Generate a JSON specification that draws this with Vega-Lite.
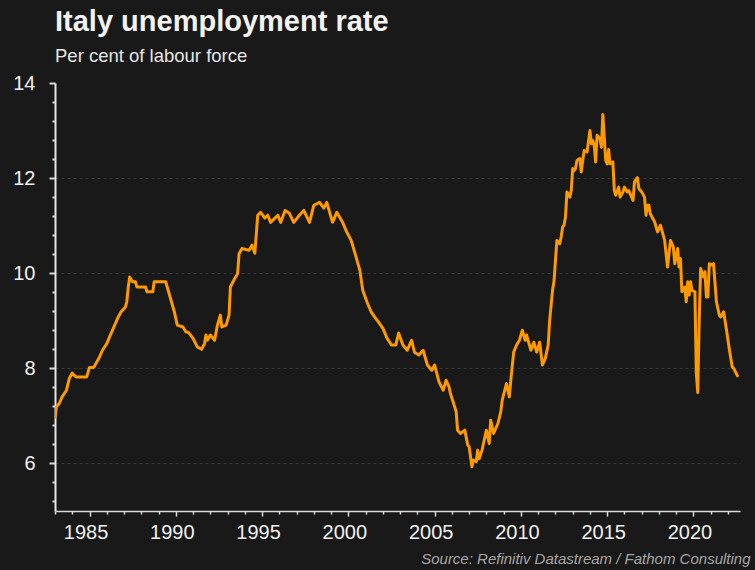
{
  "$schema": "https://vega.github.io/schema/vega-lite/v6.json",
  "width": 685,
  "height": 428,
  "autosize": {"type": "none"},
  "padding": {"left": 55, "top": 83, "right": 15, "bottom": 59},
  "background": "#191919",
  "title": {
    "text": "Italy unemployment rate",
    "subtitle": "Per cent of labour force",
    "anchor": "start",
    "frame": "group",
    "font": "Liberation Sans",
    "fontSize": 29,
    "fontWeight": "bold",
    "color": "#f2f2f2",
    "subtitleFont": "Liberation Sans",
    "subtitleFontSize": 18.5,
    "subtitleColor": "#e6e6e6",
    "subtitlePadding": 10,
    "offset": 8
  },
  "config": {
    "view": {"stroke": null},
    "axis": {"labelFont": "Liberation Sans", "labelFontSize": 20, "labelColor": "#f0f0f0"}
  },
  "data": {
    "values": [
      {"date": "1983-01-01", "rate": 6.95},
      {"date": "1983-02-01", "rate": 7.19},
      {"date": "1983-04-01", "rate": 7.26},
      {"date": "1983-06-01", "rate": 7.40},
      {"date": "1983-09-01", "rate": 7.54},
      {"date": "1983-11-01", "rate": 7.79},
      {"date": "1984-01-01", "rate": 7.90},
      {"date": "1984-02-01", "rate": 7.86},
      {"date": "1984-04-01", "rate": 7.82},
      {"date": "1984-11-01", "rate": 7.82},
      {"date": "1985-01-01", "rate": 8.02},
      {"date": "1985-04-01", "rate": 8.02},
      {"date": "1985-08-01", "rate": 8.24},
      {"date": "1985-10-01", "rate": 8.38},
      {"date": "1986-01-01", "rate": 8.52},
      {"date": "1986-03-01", "rate": 8.66},
      {"date": "1986-05-01", "rate": 8.80},
      {"date": "1986-09-01", "rate": 9.08},
      {"date": "1986-11-01", "rate": 9.19},
      {"date": "1987-02-01", "rate": 9.29},
      {"date": "1987-03-01", "rate": 9.40},
      {"date": "1987-04-01", "rate": 9.71},
      {"date": "1987-05-01", "rate": 9.92},
      {"date": "1987-07-01", "rate": 9.82},
      {"date": "1987-09-01", "rate": 9.82},
      {"date": "1987-10-01", "rate": 9.71},
      {"date": "1988-04-01", "rate": 9.71},
      {"date": "1988-05-01", "rate": 9.61},
      {"date": "1988-09-01", "rate": 9.61},
      {"date": "1988-10-01", "rate": 9.82},
      {"date": "1989-06-01", "rate": 9.82},
      {"date": "1989-08-01", "rate": 9.61},
      {"date": "1989-10-01", "rate": 9.40},
      {"date": "1989-12-01", "rate": 9.19},
      {"date": "1990-02-01", "rate": 8.91},
      {"date": "1990-06-01", "rate": 8.87},
      {"date": "1990-08-01", "rate": 8.77},
      {"date": "1990-10-01", "rate": 8.75},
      {"date": "1991-01-01", "rate": 8.63},
      {"date": "1991-04-01", "rate": 8.45},
      {"date": "1991-07-01", "rate": 8.40},
      {"date": "1991-09-01", "rate": 8.52},
      {"date": "1991-10-01", "rate": 8.70},
      {"date": "1991-11-01", "rate": 8.59},
      {"date": "1992-01-01", "rate": 8.70},
      {"date": "1992-04-01", "rate": 8.59},
      {"date": "1992-06-01", "rate": 8.91},
      {"date": "1992-08-01", "rate": 9.12},
      {"date": "1992-09-01", "rate": 8.87},
      {"date": "1992-12-01", "rate": 8.91},
      {"date": "1993-02-01", "rate": 9.12},
      {"date": "1993-03-01", "rate": 9.71},
      {"date": "1993-06-01", "rate": 9.89},
      {"date": "1993-08-01", "rate": 9.99},
      {"date": "1993-09-01", "rate": 10.41},
      {"date": "1993-11-01", "rate": 10.52},
      {"date": "1994-04-01", "rate": 10.48},
      {"date": "1994-06-01", "rate": 10.59},
      {"date": "1994-08-01", "rate": 10.42},
      {"date": "1994-10-01", "rate": 11.22},
      {"date": "1994-12-01", "rate": 11.28},
      {"date": "1995-03-01", "rate": 11.16},
      {"date": "1995-05-01", "rate": 11.22},
      {"date": "1995-07-01", "rate": 11.07},
      {"date": "1995-12-01", "rate": 11.22},
      {"date": "1996-02-01", "rate": 11.07},
      {"date": "1996-05-01", "rate": 11.32},
      {"date": "1996-08-01", "rate": 11.26},
      {"date": "1996-11-01", "rate": 11.07},
      {"date": "1997-03-01", "rate": 11.22},
      {"date": "1997-06-01", "rate": 11.32},
      {"date": "1997-10-01", "rate": 11.07},
      {"date": "1998-01-01", "rate": 11.43},
      {"date": "1998-05-01", "rate": 11.49},
      {"date": "1998-08-01", "rate": 11.37},
      {"date": "1998-10-01", "rate": 11.49},
      {"date": "1999-02-01", "rate": 11.07},
      {"date": "1999-05-01", "rate": 11.28},
      {"date": "1999-09-01", "rate": 11.07},
      {"date": "1999-12-01", "rate": 10.86},
      {"date": "2000-03-01", "rate": 10.69},
      {"date": "2000-06-01", "rate": 10.38},
      {"date": "2000-09-01", "rate": 10.06},
      {"date": "2000-11-01", "rate": 9.64},
      {"date": "2001-02-01", "rate": 9.39},
      {"date": "2001-05-01", "rate": 9.18},
      {"date": "2001-08-01", "rate": 9.05},
      {"date": "2001-10-01", "rate": 8.97},
      {"date": "2002-01-01", "rate": 8.84},
      {"date": "2002-04-01", "rate": 8.63},
      {"date": "2002-07-01", "rate": 8.49},
      {"date": "2002-10-01", "rate": 8.49},
      {"date": "2002-12-01", "rate": 8.74},
      {"date": "2003-03-01", "rate": 8.49},
      {"date": "2003-06-01", "rate": 8.38},
      {"date": "2003-09-01", "rate": 8.59},
      {"date": "2003-11-01", "rate": 8.34},
      {"date": "2004-02-01", "rate": 8.28},
      {"date": "2004-05-01", "rate": 8.38},
      {"date": "2004-08-01", "rate": 8.07},
      {"date": "2004-11-01", "rate": 7.96},
      {"date": "2005-01-01", "rate": 8.07},
      {"date": "2005-04-01", "rate": 7.72},
      {"date": "2005-07-01", "rate": 7.54},
      {"date": "2005-09-01", "rate": 7.75},
      {"date": "2005-11-01", "rate": 7.61},
      {"date": "2005-12-01", "rate": 7.47},
      {"date": "2006-03-01", "rate": 7.19},
      {"date": "2006-04-01", "rate": 7.09},
      {"date": "2006-05-01", "rate": 6.70},
      {"date": "2006-07-01", "rate": 6.63},
      {"date": "2006-10-01", "rate": 6.70},
      {"date": "2006-12-01", "rate": 6.39},
      {"date": "2007-01-01", "rate": 6.35},
      {"date": "2007-03-01", "rate": 5.93},
      {"date": "2007-04-01", "rate": 6.07},
      {"date": "2007-06-01", "rate": 6.04},
      {"date": "2007-07-01", "rate": 6.28},
      {"date": "2007-08-01", "rate": 6.10},
      {"date": "2007-10-01", "rate": 6.28},
      {"date": "2008-01-01", "rate": 6.70},
      {"date": "2008-03-01", "rate": 6.42},
      {"date": "2008-04-01", "rate": 6.91},
      {"date": "2008-06-01", "rate": 6.63},
      {"date": "2008-09-01", "rate": 6.84},
      {"date": "2008-11-01", "rate": 7.09},
      {"date": "2008-12-01", "rate": 7.33},
      {"date": "2009-03-01", "rate": 7.68},
      {"date": "2009-05-01", "rate": 7.40},
      {"date": "2009-06-01", "rate": 7.75},
      {"date": "2009-08-01", "rate": 8.34},
      {"date": "2009-10-01", "rate": 8.49},
      {"date": "2009-12-01", "rate": 8.59},
      {"date": "2010-02-01", "rate": 8.80},
      {"date": "2010-04-01", "rate": 8.59},
      {"date": "2010-05-01", "rate": 8.70},
      {"date": "2010-08-01", "rate": 8.38},
      {"date": "2010-10-01", "rate": 8.55},
      {"date": "2010-12-01", "rate": 8.34},
      {"date": "2011-02-01", "rate": 8.55},
      {"date": "2011-04-01", "rate": 8.07},
      {"date": "2011-06-01", "rate": 8.21},
      {"date": "2011-08-01", "rate": 8.49},
      {"date": "2011-09-01", "rate": 9.01},
      {"date": "2011-11-01", "rate": 9.64},
      {"date": "2011-12-01", "rate": 9.82},
      {"date": "2012-02-01", "rate": 10.69},
      {"date": "2012-04-01", "rate": 10.62},
      {"date": "2012-05-01", "rate": 10.76},
      {"date": "2012-06-01", "rate": 10.97},
      {"date": "2012-07-01", "rate": 11.01},
      {"date": "2012-08-01", "rate": 11.18},
      {"date": "2012-09-01", "rate": 11.71},
      {"date": "2012-11-01", "rate": 11.60},
      {"date": "2012-12-01", "rate": 11.74},
      {"date": "2013-01-01", "rate": 12.20},
      {"date": "2013-02-01", "rate": 12.16},
      {"date": "2013-03-01", "rate": 12.20},
      {"date": "2013-04-01", "rate": 12.37},
      {"date": "2013-06-01", "rate": 12.41},
      {"date": "2013-07-01", "rate": 12.13},
      {"date": "2013-08-01", "rate": 12.37},
      {"date": "2013-09-01", "rate": 12.58},
      {"date": "2013-11-01", "rate": 12.55},
      {"date": "2014-01-01", "rate": 13.00},
      {"date": "2014-02-01", "rate": 12.72},
      {"date": "2014-03-01", "rate": 12.79},
      {"date": "2014-04-01", "rate": 12.69},
      {"date": "2014-05-01", "rate": 12.34},
      {"date": "2014-06-01", "rate": 12.90},
      {"date": "2014-08-01", "rate": 12.83},
      {"date": "2014-09-01", "rate": 12.65},
      {"date": "2014-10-01", "rate": 13.34},
      {"date": "2014-12-01", "rate": 12.37},
      {"date": "2015-01-01", "rate": 12.30},
      {"date": "2015-02-01", "rate": 12.60},
      {"date": "2015-03-01", "rate": 12.30},
      {"date": "2015-05-01", "rate": 12.34},
      {"date": "2015-06-01", "rate": 11.74},
      {"date": "2015-07-01", "rate": 11.64},
      {"date": "2015-09-01", "rate": 11.81},
      {"date": "2015-10-01", "rate": 11.60},
      {"date": "2015-12-01", "rate": 11.71},
      {"date": "2016-01-01", "rate": 11.81},
      {"date": "2016-03-01", "rate": 11.71},
      {"date": "2016-04-01", "rate": 11.74},
      {"date": "2016-07-01", "rate": 11.53},
      {"date": "2016-08-01", "rate": 11.92},
      {"date": "2016-10-01", "rate": 12.01},
      {"date": "2016-11-01", "rate": 11.78},
      {"date": "2017-01-01", "rate": 11.71},
      {"date": "2017-03-01", "rate": 11.60},
      {"date": "2017-04-01", "rate": 11.22},
      {"date": "2017-05-01", "rate": 11.43},
      {"date": "2017-06-01", "rate": 11.43},
      {"date": "2017-07-01", "rate": 11.25},
      {"date": "2017-10-01", "rate": 11.08},
      {"date": "2017-12-01", "rate": 10.87},
      {"date": "2018-02-01", "rate": 11.01},
      {"date": "2018-05-01", "rate": 10.69},
      {"date": "2018-07-01", "rate": 10.13},
      {"date": "2018-09-01", "rate": 10.69},
      {"date": "2018-11-01", "rate": 10.55},
      {"date": "2018-12-01", "rate": 10.20},
      {"date": "2019-02-01", "rate": 10.52},
      {"date": "2019-03-01", "rate": 10.13},
      {"date": "2019-04-01", "rate": 10.31},
      {"date": "2019-05-01", "rate": 9.61},
      {"date": "2019-07-01", "rate": 9.71},
      {"date": "2019-08-01", "rate": 9.40},
      {"date": "2019-09-01", "rate": 9.82},
      {"date": "2019-10-01", "rate": 9.54},
      {"date": "2019-11-01", "rate": 9.82},
      {"date": "2019-12-01", "rate": 9.64},
      {"date": "2020-02-01", "rate": 9.61},
      {"date": "2020-03-01", "rate": 7.90},
      {"date": "2020-04-01", "rate": 7.49},
      {"date": "2020-05-01", "rate": 9.00},
      {"date": "2020-06-01", "rate": 10.10},
      {"date": "2020-08-01", "rate": 9.92},
      {"date": "2020-09-01", "rate": 10.03},
      {"date": "2020-10-01", "rate": 9.50},
      {"date": "2020-11-01", "rate": 9.50},
      {"date": "2020-12-01", "rate": 10.20},
      {"date": "2021-02-01", "rate": 10.17},
      {"date": "2021-03-01", "rate": 10.20},
      {"date": "2021-05-01", "rate": 9.40},
      {"date": "2021-07-01", "rate": 9.12},
      {"date": "2021-08-01", "rate": 9.08},
      {"date": "2021-10-01", "rate": 9.19},
      {"date": "2021-12-01", "rate": 8.80},
      {"date": "2022-02-01", "rate": 8.38},
      {"date": "2022-04-01", "rate": 8.03},
      {"date": "2022-05-01", "rate": 8.00},
      {"date": "2022-08-01", "rate": 7.82}
    ]
  },
  "mark": {"type": "line", "color": "#ff9900", "strokeWidth": 3, "strokeJoin": "round", "clip": true},
  "encoding": {
    "x": {
      "field": "date",
      "type": "temporal",
      "scale": {"domain": ["1983-01-01", "2022-09-12"]},
      "axis": {
        "tickCount": {"interval": "year", "step": 1},
        "labelExpr": "year(datum.value) % 5 === 0 ? timeFormat(datum.value, '%Y') : ''",
        "labelOverlap": false,
        "labelFlush": false,
        "labelOffset": -4,
        "labelPadding": 6,
        "grid": false,
        "domainColor": "#d9d9d9",
        "domainWidth": 1.5,
        "tickColor": "#d9d9d9",
        "tickWidth": 1.5,
        "tickSize": {"condition": {"test": "year(datum.value) % 5 === 0", "value": 5}, "value": 3},
        "title": "Source: Refinitiv Datastream / Fathom Consulting",
        "titleFont": "Liberation Sans",
        "titleFontSize": 15,
        "titleFontStyle": "italic",
        "titleFontWeight": "normal",
        "titleColor": "#a6a6a6",
        "titleAnchor": "end",
        "titleAlign": "right",
        "titleBaseline": "alphabetic",
        "titleX": 695,
        "titleY": 52
      }
    },
    "y": {
      "field": "rate",
      "type": "quantitative",
      "scale": {"domain": [5, 14], "nice": false, "zero": false},
      "axis": {
        "values": [5.2, 5.6, 6, 6.4, 6.8, 7.2, 7.6, 8, 8.4, 8.8, 9.2, 9.6, 10, 10.4, 10.8, 11.2, 11.6, 12, 12.4, 12.8, 13.2, 13.6, 14],
        "labelExpr": "datum.value % 2 === 0 ? format(datum.value, 'd') : ''",
        "labelOverlap": false,
        "labelFlush": false,
        "labelPadding": 14,
        "domainColor": "#e6e6e6",
        "domainWidth": 2,
        "tickColor": "#d9d9d9",
        "tickWidth": 2,
        "tickSize": {"condition": {"test": "datum.value % 2 === 0", "value": 6}, "value": 3},
        "grid": true,
        "gridColor": "#363a38",
        "gridDash": [3, 3],
        "gridWidth": 1,
        "gridOpacity": {"condition": {"test": "datum.value % 2 === 0 && datum.value < 14", "value": 1}, "value": 0},
        "title": null
      }
    }
  }
}
